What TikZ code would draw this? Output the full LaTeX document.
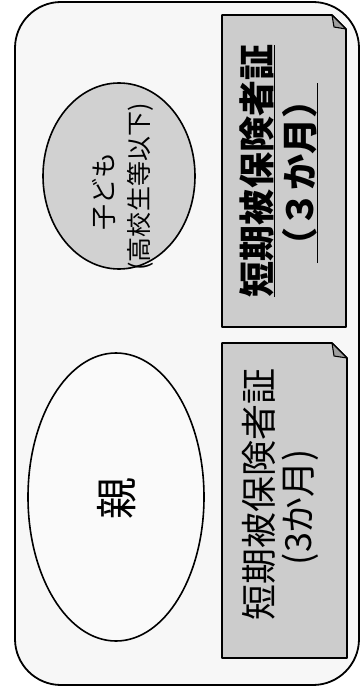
\documentclass[tikz,border=0pt]{standalone}
\usepackage{fontspec}
\newfontfamily\jp{Noto Sans CJK JP}[BoldFont={Noto Sans CJK JP Black}]
\usetikzlibrary{shapes.geometric}
\begin{document}
\begin{tikzpicture}[x=1pt,y=-1pt, line join=round,
  frame/.style={draw, line width=1.8pt, rounded corners=46pt, fill=gray!6},
  oval/.style={draw, ellipse, line width=1.6pt, inner sep=0pt},
  card/.style={draw, line width=1.6pt, fill=gray!40},
  fold/.style={draw, line width=1.1pt, fill=gray!75},
  vtext/.style={rotate=90, inner sep=0pt, font=\jp\fontsize{36pt}{36pt}\selectfont},
  vbold/.style={vtext, font=\jp\bfseries\fontsize{36pt}{36pt}\selectfont},
  uline/.style={line width=1.8pt},
]
\useasboundingbox (0,0) rectangle (362,692);
\draw[frame] (15,2) rectangle (359,685);
% ellipses
\node[oval, fill=gray!4, minimum width=176pt, minimum height=288pt] (parent) at (116,497) {};
\node[oval, fill=gray!36, minimum width=152pt, minimum height=186pt] (child) at (119,176) {};
% upper card
\draw[card] (222,15) -- (332,15) -- (346,29) -- (346,327) -- (222,327) -- cycle;
\draw[fold] (332,15) -- (346,29) -- (334,27) -- cycle;
% lower card
\draw[card] (222,343) -- (332,343) -- (347,358) -- (347,658) -- (222,658) -- cycle;
\draw[fold] (332,343) -- (347,358) -- (334,356) -- cycle;
% texts
\node[vtext, font=\jp\fontsize{42pt}{42pt}\selectfont] (ptext) at (117,498) {親};
\node[vtext, font=\jp\fontsize{26pt}{26pt}\selectfont] (c1) at (104,192) {子ども};
\node[vtext, font=\jp\fontsize{25pt}{25pt}\selectfont] (c2) at (140,187) {(高校生等以下)};
\node[vbold] (u1) at (257,171) {短期被保険者証};
\node[vbold] (u2) at (300,173) {（３か月）};
\draw[uline] (u1.south west) -- (u1.south east);
\draw[uline] (u2.south west) -- (u2.south east);
\node[vtext] (l1) at (259,494) {短期被保険者証};
\node[vtext] (l2) at (300,507) {(3か月)};
\end{tikzpicture}
\end{document}
